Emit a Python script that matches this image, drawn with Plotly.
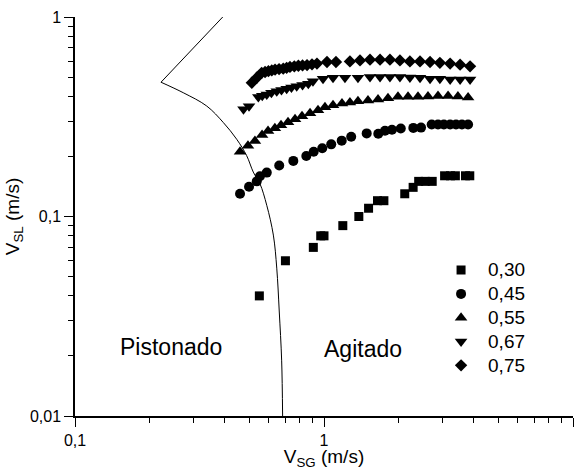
import plotly.graph_objects as go

# ---- data ----
sq_x = [0.55, 0.70, 0.906, 0.97, 1.00, 1.19, 1.38, 1.51, 1.64, 1.74, 2.11, 2.28, 2.40, 2.55, 2.72, 3.05, 3.22, 3.37, 3.70, 3.85]
sq_y = [0.04, 0.06, 0.07, 0.08, 0.08, 0.09, 0.10, 0.11, 0.12, 0.12, 0.13, 0.14, 0.15, 0.15, 0.15, 0.16, 0.16, 0.16, 0.16, 0.16]

ci_x = [0.46, 0.50, 0.537, 0.553, 0.589, 0.661, 0.753, 0.849, 0.909, 0.984, 1.069, 1.178, 1.286, 1.484, 1.652,
        1.758, 1.875, 2.034, 2.284, 2.453, 2.707, 2.87, 3.03, 3.21, 3.39, 3.58, 3.79]
ci_y = [0.130, 0.141, 0.150, 0.159, 0.166, 0.180, 0.190, 0.201, 0.211, 0.220, 0.230, 0.240, 0.251, 0.261, 0.260,
        0.269, 0.272, 0.276, 0.278, 0.279, 0.289, 0.289, 0.289, 0.289, 0.289, 0.289, 0.289]

tu_x = [0.46, 0.495, 0.528, 0.564, 0.596, 0.635, 0.672, 0.717, 0.765, 0.816, 0.879, 0.946, 1.009, 1.087, 1.181,
        1.271, 1.369, 1.502, 1.648, 1.807, 1.982, 2.175, 2.385, 2.616, 2.87, 3.15, 3.45, 3.79]
tu_y = [0.211, 0.226, 0.239, 0.256, 0.268, 0.277, 0.287, 0.297, 0.307, 0.318, 0.329, 0.341, 0.353, 0.361, 0.369,
        0.373, 0.378, 0.382, 0.386, 0.391, 0.398, 0.398, 0.398, 0.400, 0.402, 0.402, 0.400, 0.395]

td_x = [0.475, 0.50, 0.545, 0.565, 0.589, 0.615, 0.646, 0.675, 0.708, 0.74, 0.777, 0.82, 0.865, 0.903, 0.991, 1.087,
        1.214, 1.369, 1.53, 1.679, 1.84, 2.018, 2.213, 2.43, 2.666, 2.92, 3.21, 3.52, 3.86]
td_y = [0.345, 0.357, 0.397, 0.403, 0.409, 0.417, 0.425, 0.431, 0.437, 0.443, 0.450, 0.456, 0.463, 0.477, 0.491, 0.496,
        0.496, 0.496, 0.501, 0.501, 0.501, 0.501, 0.497, 0.496, 0.491, 0.491, 0.486, 0.486, 0.486]

di_x = [0.513, 0.537, 0.562, 0.58, 0.598, 0.617, 0.636, 0.66, 0.686, 0.708, 0.730, 0.76, 0.789, 0.82, 0.855, 0.895, 0.937,
        1.028, 1.117, 1.271, 1.395, 1.53, 1.679, 1.84, 2.018, 2.213, 2.43, 2.666, 2.92, 3.21, 3.52, 3.86]
di_y = [0.468, 0.496, 0.525, 0.530, 0.535, 0.540, 0.545, 0.548, 0.551, 0.556, 0.562, 0.566, 0.570, 0.572, 0.574, 0.579, 0.584,
        0.595, 0.595, 0.599, 0.606, 0.611, 0.611, 0.611, 0.606, 0.599, 0.599, 0.595, 0.589, 0.584, 0.577, 0.566]

bnd_up_x = [0.392, 0.2215]
bnd_up_y = [1.0, 0.471]
bnd_lo_x = [0.2215, 0.272, 0.338, 0.394, 0.446, 0.489, 0.520, 0.553, 0.589, 0.626, 0.646, 0.661, 0.676, 0.682]
bnd_lo_y = [0.471, 0.4174, 0.358, 0.296, 0.244, 0.202, 0.167, 0.146, 0.1138, 0.0807, 0.0551, 0.0336, 0.0189, 0.01]

series = [
    ("0,30", sq_x, sq_y, "square", 9),
    ("0,45", ci_x, ci_y, "circle", 10),
    ("0,55", tu_x, tu_y, "triangle-up", 11),
    ("0,67", td_x, td_y, "triangle-down", 11),
    ("0,75", di_x, di_y, "diamond", 9.5),
]

x_ticks = [0.1, 1, 10]
x_ticktext = ["0,1", "1", "10"]
y_ticks = [0.01, 0.1, 1]
y_ticktext = ["0,01", "0,1", "1"]
x_minor = [0.2, 0.3, 0.4, 0.5, 0.6, 0.7, 0.8, 0.9, 2, 3, 4, 5, 6, 7, 8, 9]
y_minor = [0.02, 0.03, 0.04, 0.05, 0.06, 0.07, 0.08, 0.09, 0.2, 0.3, 0.4, 0.5, 0.6, 0.7, 0.8, 0.9]

FONT = "Arial, 'Liberation Sans', sans-serif"

fig = go.Figure()
fig.add_trace(go.Scatter(x=bnd_up_x, y=bnd_up_y, mode="lines", line=dict(color="black", width=1),
                         showlegend=False, hoverinfo="skip"))
fig.add_trace(go.Scatter(x=bnd_lo_x, y=bnd_lo_y, mode="lines", line=dict(color="black", width=1, shape="spline", smoothing=1),
                         showlegend=False, hoverinfo="skip"))
for name, xs, ys, sym, sz in series:
    fig.add_trace(go.Scatter(x=xs, y=ys, mode="markers",
                             name='<span style="font-size:19px">' + name + '</span>',
                             marker=dict(symbol=sym, size=sz, color="black", line=dict(width=0))))

axis_common = dict(showline=True, linecolor="black", linewidth=1.5, showgrid=False, zeroline=False,
                   tickcolor="black", tickwidth=1.2, ticklen=9)
tickfont = dict(family=FONT, size=16, color="black")

fig.update_layout(
    width=581, height=470,
    margin=dict(l=75, r=8, t=17, b=51),
    paper_bgcolor="white", plot_bgcolor="white",
    font=dict(family=FONT, color="black"),
    xaxis=dict(type="log", range=[-1, 1], tickmode="array", tickvals=x_ticks, ticktext=x_ticktext,
               ticks="outside", tickfont=tickfont,
               minor=dict(ticks="outside", ticklen=5, tickvals=x_minor, tickcolor="black", tickwidth=1.2),
               title=dict(text="V<sub>SG</sub> (m/s)", font=dict(family=FONT, size=19), standoff=0),
               **axis_common),
    yaxis=dict(type="log", range=[-2, 0], tickmode="array", tickvals=y_ticks, ticktext=y_ticktext,
               ticks="outside", tickfont=tickfont,
               minor=dict(ticks="outside", ticklen=5, tickvals=y_minor, tickcolor="black", tickwidth=1.2),
               title=dict(text="V<sub>SL</sub> (m/s)", font=dict(family=FONT, size=19), standoff=5),
               **axis_common),
    xaxis2=dict(type="log", range=[-1, 1], overlaying="x", side="top", tickmode="array", tickvals=x_ticks,
                showticklabels=False, ticks="inside",
                minor=dict(ticks="inside", ticklen=5, tickvals=x_minor, tickcolor="black", tickwidth=1.2),
                **axis_common),
    yaxis2=dict(type="log", range=[-2, 0], overlaying="y", side="right", tickmode="array", tickvals=y_ticks,
                showticklabels=False, ticks="inside",
                minor=dict(ticks="inside", ticklen=5, tickvals=y_minor, tickcolor="black", tickwidth=1.2),
                **axis_common),
    legend=dict(x=0.721, y=0.408, xanchor="left", yanchor="top", bgcolor="rgba(0,0,0,0)",
                font=dict(family=FONT, size=16, color="black"), tracegroupgap=0, itemwidth=44),
    showlegend=True,
    annotations=[
        dict(text="Pistonado", x=0.193, y=0.174, xref="paper", yref="paper", showarrow=False,
             xanchor="center", yanchor="middle", font=dict(family=FONT, size=23, color="black")),
        dict(text="Agitado", x=0.578, y=0.167, xref="paper", yref="paper", showarrow=False,
             xanchor="center", yanchor="middle", font=dict(family=FONT, size=23, color="black")),
    ],
)

fig.write_html("out.html")
